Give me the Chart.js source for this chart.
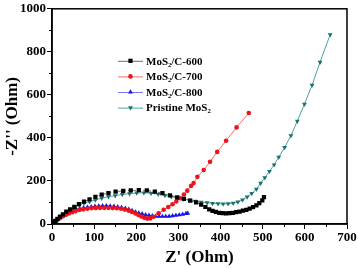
<!DOCTYPE html>
<html>
<head>
<meta charset="utf-8">
<script src="https://cdn.jsdelivr.net/npm/chart.js@4.4.1/dist/chart.umd.min.js"></script>
<style>
  html, body { margin: 0; padding: 0; background: #fff; }
  #wrap { width: 358px; height: 269px; }
</style>
</head>
<body>
<div id="wrap"><canvas id="chart"></canvas></div>
<script>
const seriesNames = ["MoS\u2082/C-600", "MoS\u2082/C-700", "MoS\u2082/C-800", "Pristine MoS\u2082"];

const c600X = [0, 4, 8, 13, 19, 26, 34, 43, 53, 64, 76, 89, 103, 118, 134, 151, 169, 187, 206, 225, 244, 262, 280, 297, 313, 328, 342, 354, 364, 373, 381, 389, 397, 405, 413, 421, 429, 437, 445, 453, 461, 469, 477, 485, 492, 499, 503];
const c600Y = [0, 7, 15, 24, 34, 45, 57, 68, 80, 92, 104, 115, 126, 136, 144, 150, 154, 156, 157, 156, 151, 143, 133, 124, 117, 109, 100, 90, 79, 68, 61, 56, 52, 50, 49, 50, 52, 55, 58, 62, 66, 71, 78, 86, 97, 110, 125];

const c700X = [0, 3, 6, 10, 15, 20, 26, 33, 40, 48, 56, 65, 74, 84, 94, 104, 114, 124, 134, 144, 154, 164, 173, 182, 190, 198, 205, 212, 219, 226, 233, 241, 253, 265, 276, 286, 295, 304, 313, 321, 330, 336, 345, 360, 375, 392, 413, 438, 467];
const c700Y = [0, 4, 9, 15, 22, 29, 36, 43, 49, 55, 60, 65, 68, 71, 73, 74, 75, 75, 75, 74, 73, 71, 67, 62, 56, 49, 42, 35, 29, 25, 26, 34, 50, 66, 79, 92, 105, 120, 137, 155, 177, 190, 219, 251, 289, 335, 387, 449, 516];

const c800X = [0, 3, 6, 10, 14, 19, 24, 30, 36, 43, 50, 58, 66, 75, 84, 93, 102, 111, 120, 129, 138, 147, 156, 165, 174, 182, 190, 198, 206, 214, 222, 230, 238, 246, 254, 262, 270, 278, 286, 294, 302, 310, 318, 322];
const c800Y = [0, 4, 9, 15, 21, 28, 35, 43, 50, 57, 62, 67, 71, 75, 78, 80, 82, 83, 84, 84, 83, 82, 80, 77, 73, 68, 62, 56, 51, 47, 43, 40, 38, 36, 35, 35, 35, 36, 38, 40, 42, 45, 48, 50];

const pristineX = [0, 4, 8, 13, 19, 26, 34, 43, 53, 64, 76, 89, 103, 118, 134, 150, 167, 184, 201, 218, 235, 252, 268, 283, 298, 312, 326, 340, 354, 368, 381, 394, 406, 418, 430, 441, 452, 463, 474, 485, 495, 505, 516, 527, 538, 552, 567, 582, 599, 617, 636, 660];
const pristineY = [0, 7, 15, 24, 34, 45, 56, 67, 78, 89, 97, 104, 112, 120, 127, 132, 137, 141, 144, 145, 143, 139, 133, 127, 121, 116, 111, 106, 102, 99, 96, 94, 93, 94, 97, 103, 112, 126, 142, 162, 190, 215, 245, 275, 311, 356, 411, 478, 557, 645, 752, 880];

const xTicks = [0, 100, 200, 300, 400, 500, 600, 700];
const yTicks = [0, 200, 400, 600, 800, 1000];

function toPoints(xs, ys) {
    return xs.map((x, i) => ({ x: x, y: ys[i] }));
}

const serif = "'Liberation Serif', 'Times New Roman', serif";

// axis frame, minor ticks and the legend box inside the plot
const extrasPlugin = {
    id: 'extras',
    afterDraw(chart) {
        const ctx = chart.ctx;
        const area = chart.chartArea;
        const xs = chart.scales.x;
        const ys = chart.scales.y;
        ctx.save();
        ctx.strokeStyle = '#000';
        ctx.lineWidth = 1.5;
        ctx.strokeRect(area.left, area.top, area.right - area.left, area.bottom - area.top);

        ctx.lineWidth = 1;
        ctx.beginPath();
        for (let v = 50; v < 700; v += 100) {
            const px = Math.round(xs.getPixelForValue(v)) + 0.5;
            ctx.moveTo(px, area.bottom);
            ctx.lineTo(px, area.bottom + 3);
        }
        for (let v = 100; v < 1000; v += 200) {
            const py = Math.round(ys.getPixelForValue(v)) + 0.5;
            ctx.moveTo(area.left, py);
            ctx.lineTo(area.left - 3, py);
        }
        ctx.stroke();

        // legend
        const x0 = area.left + 66;
        const y0 = area.top + 52;
        ctx.font = "bold 11px " + serif;
        ctx.textBaseline = 'middle';
        chart.data.datasets.forEach((ds, i) => {
            const y = y0 + i * 15.6;
            ctx.strokeStyle = ds.borderColor;
            ctx.lineWidth = 1;
            ctx.beginPath();
            ctx.moveTo(x0, y + 0.5);
            ctx.lineTo(x0 + 25, y + 0.5);
            ctx.stroke();
            ctx.fillStyle = ds.pointBackgroundColor;
            ctx.strokeStyle = ds.pointBorderColor;
            Chart.helpers.drawPoint(ctx, {
                pointStyle: ds.pointStyle,
                radius: ds.pointRadius,
                rotation: ds.rotation || 0,
                borderWidth: 0
            }, x0 + 12.5, y);
            ctx.fillStyle = '#000';
            ctx.fillText(ds.label, x0 + 28, y + 1);
        });
        ctx.restore();
    }
};

const datasets = [
    {
        label: seriesNames[0],
        data: toPoints(c600X, c600Y),
        borderColor: 'rgb(110, 110, 110)',
        pointBackgroundColor: '#000',
        pointBorderColor: '#000',
        pointStyle: 'rect',
        pointRadius: 3,
        borderDash: [3, 2]
    },
    {
        label: seriesNames[1],
        data: toPoints(c700X, c700Y),
        borderColor: 'rgb(245, 110, 110)',
        pointBackgroundColor: 'rgb(235, 20, 25)',
        pointBorderColor: 'rgb(235, 20, 25)',
        pointStyle: 'circle',
        pointRadius: 2.3
    },
    {
        label: seriesNames[2],
        data: toPoints(c800X, c800Y),
        borderColor: 'rgb(120, 120, 245)',
        pointBackgroundColor: 'rgb(20, 20, 235)',
        pointBorderColor: 'rgb(20, 20, 235)',
        pointStyle: 'triangle',
        pointRadius: 2.8
    },
    {
        label: seriesNames[3],
        data: toPoints(pristineX, pristineY),
        borderColor: 'rgb(80, 160, 160)',
        pointBackgroundColor: 'rgb(25, 115, 110)',
        pointBorderColor: 'rgb(25, 115, 110)',
        pointStyle: 'triangle',
        rotation: 180,
        pointRadius: 2.8
    }
];
datasets.forEach(ds => {
    ds.borderWidth = 1;
    ds.pointBorderWidth = 0;
    ds.fill = false;
    ds.tension = 0;
});

const config = {
    type: 'line',
    data: { datasets: datasets },
    options: {
        responsive: true,
        maintainAspectRatio: false,
        animation: false,
        layout: { padding: { top: 6, right: 11, left: 0, bottom: 0 } },
        plugins: {
            legend: { display: false },
            tooltip: { enabled: false }
        },
        scales: {
            x: {
                type: 'linear',
                min: 0,
                max: 700,
                afterFit: s => { s.height = 45; },
                afterBuildTicks: s => { s.ticks = xTicks.map(v => ({ value: v })); },
                grid: { display: true, drawOnChartArea: false, drawTicks: true, tickLength: 5, color: '#000' },
                border: { display: true, color: '#000', width: 1.5 },
                ticks: {
                    color: '#000', padding: 1, maxRotation: 0,
                    callback: v => String(v),
                    font: { family: serif, size: 13, weight: 'bold' }
                },
                title: {
                    display: true,
                    text: "Z' (Ohm)",
                    color: '#000',
                    padding: { top: 0, bottom: 1 },
                    font: { family: serif, size: 17, weight: 'bold' }
                }
            },
            y: {
                type: 'linear',
                min: 0,
                max: 1000,
                afterFit: s => { s.width = 52; },
                afterBuildTicks: s => { s.ticks = yTicks.map(v => ({ value: v })); },
                grid: { display: true, drawOnChartArea: false, drawTicks: true, tickLength: 5, color: '#000' },
                border: { display: true, color: '#000', width: 1.5 },
                ticks: {
                    color: '#000', padding: 1,
                    callback: v => String(v),
                    font: { family: serif, size: 13, weight: 'bold' }
                },
                title: {
                    display: true,
                    text: "-Z'' (Ohm)",
                    color: '#000',
                    padding: { top: 2, bottom: 0 },
                    font: { family: serif, size: 17, weight: 'bold' }
                }
            }
        }
    },
    plugins: [extrasPlugin]
};

const chartElement = document.getElementById("chart");
window.myChart = new Chart(chartElement, config);
</script>
</body>
</html>
